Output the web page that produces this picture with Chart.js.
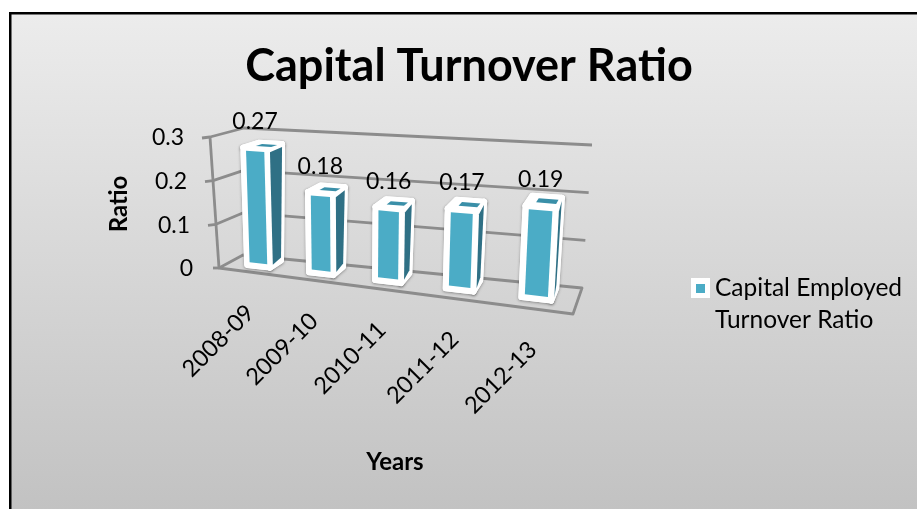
<!DOCTYPE html>
<html>
<head>
<meta charset="utf-8">
<title>Capital Turnover Ratio</title>
<script src="https://cdn.jsdelivr.net/npm/chart.js@4"></script>
<style>
  html, body { margin: 0; padding: 0; background: #fff; }
  canvas { display: block; }
</style>
</head>
<body>
<canvas id="ratioChart" width="917" height="509"></canvas>
<script>
var categories = ['2008-09', '2009-10', '2010-11', '2011-12', '2012-13'];
var ratioValues = [0.27, 0.18, 0.16, 0.17, 0.19];
var seriesName = ['Capital Employed', 'Turnover Ratio'];
var chartTitle = 'Capital Turnover Ratio';
var xTitle = 'Years';
var yTitle = 'Ratio';

var FONT = 'Lato, sans-serif';
var GRID = '#8c8c8c';

// corners of the 3d box: front/back, bottom/top, left/right
var FBL = [219, 268], FBR = [573, 314], BBL = [243, 255], BBR = [582, 288];
var FTL = [210, 137], FTR = [581, 164], BTL = [244, 128], BTR = [592, 145];
var PERSPECTIVE = 0.155;
var BAR_FRONT = 0.4, BAR_BACK = 0.9;

function lerp(a, b, t) {
  return [a[0] + (b[0] - a[0]) * t, a[1] + (b[1] - a[1]) * t];
}

// maps a point of the flat chart area plus a depth (0 front, 1 back) onto the box
function project(area, x, y, d) {
  var u = (x - area.left) / (area.right - area.left);
  u = u * (1 - PERSPECTIVE) / (1 - PERSPECTIVE * u);
  var w = (area.bottom - y) / (area.bottom - area.top);
  var bottom = lerp(lerp(FBL, FBR, u), lerp(BBL, BBR, u), d);
  var top = lerp(lerp(FTL, FTR, u), lerp(BTL, BTR, u), d);
  return lerp(bottom, top, w);
}

function poly(ctx, pts) {
  ctx.beginPath();
  pts.forEach(function (p, i) {
    if (i === 0) ctx.moveTo(p[0], p[1]);
    else ctx.lineTo(p[0], p[1]);
  });
  ctx.closePath();
}

function line(ctx, a, b) {
  ctx.beginPath();
  ctx.moveTo(a[0], a[1]);
  ctx.lineTo(b[0], b[1]);
  ctx.stroke();
}

function label(ctx, text, x, y, font, align, angle) {
  ctx.save();
  ctx.translate(x, y);
  ctx.rotate(angle || 0);
  ctx.font = font;
  ctx.fillStyle = '#000';
  ctx.textAlign = align || 'center';
  ctx.textBaseline = 'middle';
  ctx.fillText(text, 0, 0);
  ctx.restore();
}

var backgroundPlugin = {
  id: 'panel',
  beforeDraw: function (chart) {
    var ctx = chart.ctx;
    var grad = ctx.createLinearGradient(0, 14, 0, 509);
    grad.addColorStop(0, '#ececec');
    grad.addColorStop(1, '#c2c2c2');
    ctx.save();
    ctx.fillStyle = '#fff';
    ctx.fillRect(0, 0, 917, 509);
    ctx.fillStyle = grad;
    ctx.fillRect(10, 13, 907, 496);
    ctx.fillStyle = '#000';
    ctx.fillRect(9, 12, 908, 2.5);
    ctx.fillRect(9, 12, 2.5, 497);
    ctx.restore();
  }
};

var wallsPlugin = {
  id: 'walls',
  beforeDatasetsDraw: function (chart) {
    var ctx = chart.ctx, area = chart.chartArea, y = chart.scales.y;
    ctx.save();
    ctx.strokeStyle = GRID;
    ctx.lineWidth = 2.8;
    ctx.lineJoin = 'round';

    y.ticks.forEach(function (tick) {
      var py = y.getPixelForValue(tick.value);
      var a = project(area, area.left, py, 0);
      var b = project(area, area.left, py, 1);
      var c = project(area, area.right, py, 1);
      if (tick.value > 0) {
        ctx.beginPath();
        ctx.moveTo(a[0] - 8, a[1] + 1);
        ctx.lineTo(a[0], a[1]);
        ctx.lineTo(b[0], b[1]);
        ctx.lineTo(c[0], c[1]);
        ctx.stroke();
      } else {
        line(ctx, [a[0] - 6, a[1]], a);
      }
      label(ctx, tick.label, a[0] - 26, a[1] + 1, '23px ' + FONT, 'right');
    });

    poly(ctx, [
      project(area, area.left, area.bottom, 0),
      project(area, area.left, area.bottom, 1),
      project(area, area.right, area.bottom, 1),
      project(area, area.right, area.bottom, 0)
    ]);
    ctx.stroke();
    line(ctx, project(area, area.left, area.bottom, 0), project(area, area.left, area.top, 0));
    ctx.restore();
  }
};

var barsPlugin = {
  id: 'bars3d',
  afterDatasetsDraw: function (chart) {
    var ctx = chart.ctx, area = chart.chartArea;
    var meta = chart.getDatasetMeta(0);
    ctx.save();
    ctx.lineJoin = 'round';
    meta.data.forEach(function (bar, i) {
      var l = bar.x - bar.width / 2, r = bar.x + bar.width / 2;
      var t = bar.y, b = bar.base;
      var front = [[l, t], [r, t], [r, b], [l, b]].map(function (p) {
        return project(area, p[0], p[1], BAR_FRONT);
      });
      var side = [
        project(area, r, t, BAR_FRONT), project(area, r, t, BAR_BACK),
        project(area, r, b, BAR_BACK), project(area, r, b, BAR_FRONT)
      ];
      var top = [
        project(area, l, t, BAR_FRONT), project(area, r, t, BAR_FRONT),
        project(area, r, t, BAR_BACK), project(area, l, t, BAR_BACK)
      ];

      // white bevel with a soft edge
      ctx.save();
      ctx.shadowColor = 'rgba(0,0,0,0.35)';
      ctx.shadowBlur = 3;
      ctx.shadowOffsetY = 1;
      ctx.fillStyle = '#fff';
      ctx.strokeStyle = '#fff';
      ctx.lineWidth = 6;
      [front, side, top].forEach(function (face) {
        poly(ctx, face);
        ctx.fill();
        ctx.stroke();
      });
      ctx.restore();
      [front, side, top].forEach(function (face) {
        poly(ctx, face);
        ctx.fillStyle = '#fff';
        ctx.strokeStyle = '#fff';
        ctx.lineWidth = 6;
        ctx.fill();
        ctx.stroke();
      });

      // coloured faces, inset from the bevel
      var ins = 3;
      poly(ctx, [[l + ins, t + ins], [r - ins, t + ins], [r - ins, b - ins], [l + ins, b - ins]].map(function (p) {
        return project(area, p[0], p[1], BAR_FRONT);
      }));
      ctx.fillStyle = '#4bacc6';
      ctx.fill();

      // side face starts a fixed distance past the front edge
      var nearTop = project(area, r, t + ins, BAR_FRONT);
      var nearBottom = project(area, r, b - ins, BAR_FRONT);
      poly(ctx, [
        [nearTop[0] + 3, nearTop[1]], project(area, r, t + ins, BAR_BACK),
        project(area, r, b - ins, BAR_BACK), [nearBottom[0] + 3, nearBottom[1]]
      ]);
      ctx.fillStyle = '#2f7085';
      ctx.fill();

      poly(ctx, [
        project(area, l + 7, t, BAR_FRONT + 0.2), project(area, r - 2, t, BAR_FRONT + 0.2),
        project(area, r - 2, t, BAR_BACK - 0.1), project(area, l + 7, t, BAR_BACK - 0.1)
      ]);
      ctx.fillStyle = '#3a8fa8';
      ctx.fill();

      // value above the bar
      var p = project(area, bar.x, t, BAR_FRONT);
      label(ctx, String(ratioValues[i]), p[0], p[1] - 27, '23px ' + FONT);
    });
    ctx.restore();
  }
};

var textPlugin = {
  id: 'chartText',
  afterDraw: function (chart) {
    var ctx = chart.ctx, area = chart.chartArea, x = chart.scales.x;
    label(ctx, chartTitle, 469, 66, 'bold 45px ' + FONT);
    categories.forEach(function (name, i) {
      var p = project(area, x.getPixelForValue(i), area.bottom, 0);
      label(ctx, name, p[0] + 1, p[1] + 37, '23.5px ' + FONT, 'right', -Math.PI / 4);
    });
    label(ctx, xTitle, 395, 462, 'bold 24px ' + FONT);
    label(ctx, yTitle, 119, 204, 'bold 24px ' + FONT, 'center', -Math.PI / 2);

    // legend
    ctx.save();
    ctx.fillStyle = '#fff';
    ctx.fillRect(691, 278, 19, 20);
    ctx.fillStyle = '#4bacc6';
    ctx.fillRect(696, 284, 9, 9);
    ctx.restore();
    label(ctx, seriesName[0], 715, 288, '24.5px ' + FONT, 'left');
    label(ctx, seriesName[1], 715, 320, '24.5px ' + FONT, 'left');
  }
};

var ratioChart = new Chart(document.getElementById('ratioChart'), {
  type: 'bar',
  data: {
    labels: categories,
    datasets: [{
      label: seriesName.join(' '),
      data: ratioValues,
      backgroundColor: 'rgba(0,0,0,0)',
      barPercentage: 0.375,
      categoryPercentage: 1
    }]
  },
  options: {
    responsive: false,
    animation: false,
    layout: { padding: { left: 219, right: 344, top: 137, bottom: 241 } },
    scales: {
      x: { display: false },
      y: { display: false, min: 0, max: 0.3, ticks: { stepSize: 0.1 } }
    },
    plugins: {
      legend: { display: false },
      tooltip: { enabled: false }
    }
  },
  plugins: [backgroundPlugin, wallsPlugin, barsPlugin, textPlugin]
});
</script>
</body>
</html>
